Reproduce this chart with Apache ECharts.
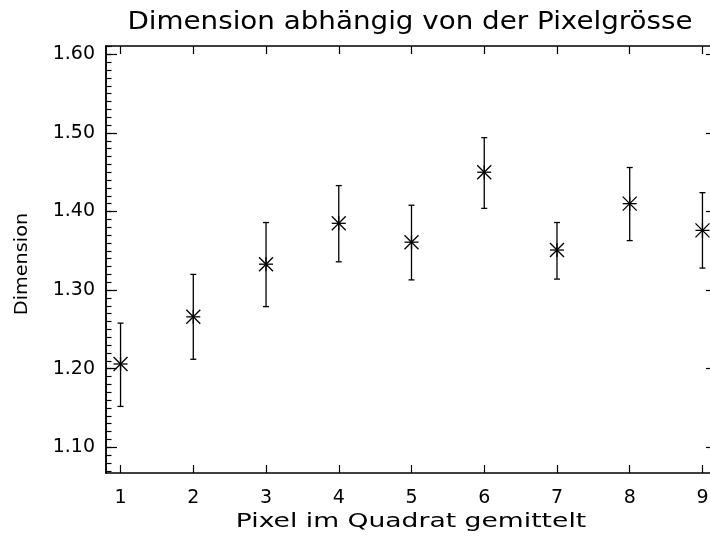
<!DOCTYPE html>
<html><head><meta charset="utf-8">
<script src="https://cdn.jsdelivr.net/npm/echarts@6/dist/echarts.min.js"></script>
<style>html,body{margin:0;padding:0;background:#fff}#c{width:710px;height:538px}</style>
</head><body><div id="c"></div>
<script>
// ---- data ----
const pixelSizes = [1, 2, 3, 4, 5, 6, 7, 8, 9];
const dimension  = [1.206, 1.266, 1.333, 1.385, 1.361, 1.450, 1.351, 1.410, 1.376];
const errLow     = [1.152, 1.212, 1.279, 1.336, 1.313, 1.404, 1.314, 1.363, 1.328];
const errHigh    = [1.258, 1.320, 1.386, 1.433, 1.408, 1.494, 1.386, 1.456, 1.424];
const xTickValues = [1, 2, 3, 4, 5, 6, 7, 8, 9];
const yTickValues = [1.1, 1.2, 1.3, 1.4, 1.5, 1.6];
const titleText = 'Dimension abhängig von der Pixelgrösse';
const xName = 'Pixel im Quadrat gemittelt';
const yName = 'Dimension';

const yMinorValues = [];
for (let i = 107; i <= 161; i++) yMinorValues.push(i / 100);

const FONT = "'DejaVu Sans', sans-serif";
const X_MIN = 0.8, X_MAX = 9.2, Y_MIN = 1.0673, Y_MAX = 1.6106;

const chart = echarts.init(document.getElementById('c'), null, {renderer: 'canvas'});
const lineCol = '#000';

function yAxisDef(pos, ticks, len, labels) {
  return {
    type: 'value', position: pos, min: Y_MIN, max: Y_MAX,
    axisLine: {show: true, onZero: false, lineStyle: {color: lineCol, width: 1.5}},
    axisTick: {show: true, inside: true, length: len, customValues: ticks, lineStyle: {color: lineCol, width: 1.2}},
    axisLabel: labels ? {show: true, customValues: ticks, margin: 11, fontSize: 19, color: '#000', fontFamily: FONT,
      formatter: v => Number(v).toFixed(2)} : {show: false},
    splitLine: {show: false}
  };
}
function xAxisDef(pos, labels) {
  return {
    type: 'value', position: pos, min: X_MIN, max: X_MAX,
    axisLine: {show: true, onZero: false, lineStyle: {color: lineCol, width: 1.5}},
    axisTick: {show: true, inside: true, length: 8, customValues: xTickValues, lineStyle: {color: lineCol, width: 1.2}},
    axisLabel: labels ? {show: true, customValues: xTickValues, margin: 16, fontSize: 19, color: '#000', fontFamily: FONT} : {show: false},
    splitLine: {show: false}
  };
}

const seriesData = pixelSizes.map((x, i) => [x, dimension[i], errLow[i], errHigh[i]]);

chart.setOption({
  animation: false,
  backgroundColor: '#fff',
  grid: {left: 106, top: 46, width: 611, height: 427, containLabel: false, outerBoundsMode: 'none'},
  xAxis: [xAxisDef('bottom', true), xAxisDef('top', false)],
  yAxis: [
    yAxisDef('left', yTickValues, 11, true),
    yAxisDef('left', yMinorValues, 5.5, false),
    yAxisDef('right', yTickValues, 11, false),
    yAxisDef('right', yMinorValues, 5.5, false)
  ],
  graphic: [
    {type: 'text', x: 410, y: 22, scaleX: 1.11, style: {text: titleText, font: "25px " + FONT, fill: '#000', textAlign: 'center', textVerticalAlign: 'middle'}},
    {type: 'text', x: 411, y: 522, scaleX: 1.33, style: {text: xName, font: "20px " + FONT, fill: '#000', textAlign: 'center', textVerticalAlign: 'middle'}},
    {type: 'text', x: 22, y: 264, scaleX: 1.07, rotation: Math.PI / 2, style: {text: yName, font: "18px " + FONT, fill: '#000', textAlign: 'center', textVerticalAlign: 'middle'}}
  ],
  series: [{
    type: 'custom',
    xAxisIndex: 0, yAxisIndex: 0,
    clip: false,
    data: seriesData,
    renderItem: function (params, api) {
      const x = api.value(0);
      const p = api.coord([x, api.value(1)]);
      const lo = api.coord([x, api.value(2)]);
      const hi = api.coord([x, api.value(3)]);
      const st = {stroke: '#000', lineWidth: 1.3, fill: null};
      const cw = 3, s = 7;
      return {type: 'group', children: [
        {type: 'line', shape: {x1: lo[0], y1: lo[1], x2: hi[0], y2: hi[1]}, style: st},
        {type: 'line', shape: {x1: lo[0] - cw, y1: lo[1], x2: lo[0] + cw, y2: lo[1]}, style: st},
        {type: 'line', shape: {x1: hi[0] - cw, y1: hi[1], x2: hi[0] + cw, y2: hi[1]}, style: st},
        {type: 'line', shape: {x1: p[0] - s, y1: p[1], x2: p[0] + s, y2: p[1]}, style: st},
        {type: 'line', shape: {x1: p[0], y1: p[1] - s, x2: p[0], y2: p[1] + s}, style: st},
        {type: 'line', shape: {x1: p[0] - s, y1: p[1] - s, x2: p[0] + s, y2: p[1] + s}, style: st},
        {type: 'line', shape: {x1: p[0] - s, y1: p[1] + s, x2: p[0] + s, y2: p[1] - s}, style: st}
      ]};
    }
  }]
});
</script></body></html>
